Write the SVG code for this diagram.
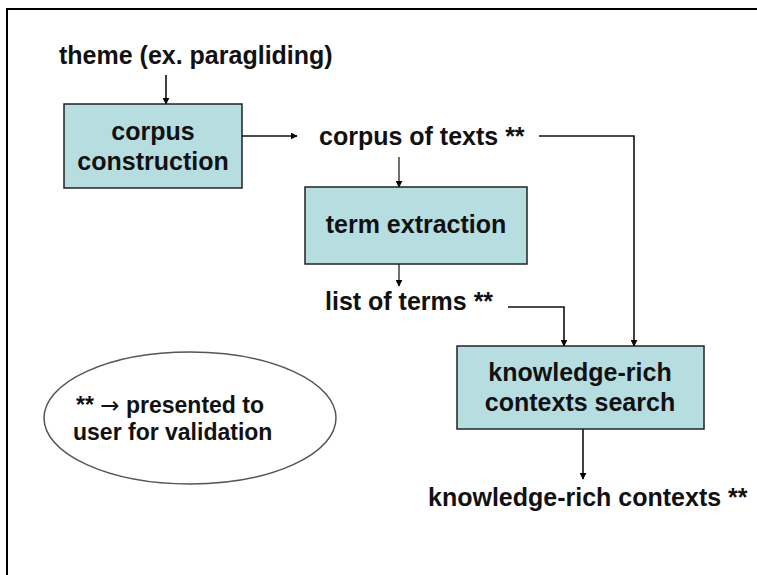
<svg xmlns="http://www.w3.org/2000/svg" width="757" height="575" viewBox="0 0 757 575">
<defs>
<marker id="ah" viewBox="0 0 10 10" refX="9" refY="5" markerWidth="7" markerHeight="7" markerUnits="userSpaceOnUse" orient="auto">
<path d="M0,0 L10,5 L0,10 z" fill="#000"/>
</marker>
<style>
.t{font-family:"Liberation Sans",Arial,sans-serif;font-weight:bold;font-size:25px;fill:#111}
.s{font-size:23px}
.ar{font-family:"DejaVu Sans","Liberation Sans",sans-serif;font-weight:normal}
.box{fill:#b6dde0;stroke:#222;stroke-width:1.5}
.c{fill:none;stroke:#111;stroke-width:1.6;marker-end:url(#ah)}
.thin{stroke-width:1.2}
</style>
</defs>
<rect width="757" height="575" fill="#fff"/>
<path d="M7,575 V9 H757" fill="none" stroke="#000" stroke-width="2"/>

<g id="connectors">
<path class="c" d="M166,75 V104"/>
<path class="c" d="M242,136 H297"/>
<path class="c thin" d="M399,157 V187"/>
<path class="c thin" d="M399,264 V286"/>
<path class="c" d="M539,136 H634 V346"/>
<path class="c" d="M508,307 H564 V346"/>
<path class="c" d="M583,429 V479"/>
</g>

<g id="theme">
<text class="t" x="59" y="64">theme (ex. paragliding)</text>
</g>

<g id="corpus-construction">
<rect class="box" x="64" y="104" width="178" height="84"/>
<text class="t" x="153" y="140" text-anchor="middle">corpus</text>
<text class="t" x="153" y="170" text-anchor="middle">construction</text>
</g>

<g id="corpus-of-texts">
<text class="t" x="319" y="145">corpus of texts **</text>
</g>

<g id="term-extraction">
<rect class="box" x="305" y="187" width="222" height="77"/>
<text class="t" x="416" y="233" text-anchor="middle">term extraction</text>
</g>

<g id="list-of-terms">
<text class="t" x="325" y="310">list of terms **</text>
</g>

<g id="krc-search">
<rect class="box" x="457" y="346" width="247" height="83"/>
<text class="t" x="580" y="381" text-anchor="middle">knowledge-rich</text>
<text class="t" x="580" y="411" text-anchor="middle">contexts search</text>
</g>

<g id="krc">
<text class="t" x="428" y="506">knowledge-rich contexts **</text>
</g>

<g id="legend">
<ellipse cx="190" cy="418" rx="146" ry="66" fill="#fff" stroke="#555" stroke-width="1.5"/>
<text class="t s" x="76" y="413">** <tspan class="ar">→</tspan> presented to</text>
<text class="t s" x="73" y="440">user for validation</text>
</g>
</svg>
